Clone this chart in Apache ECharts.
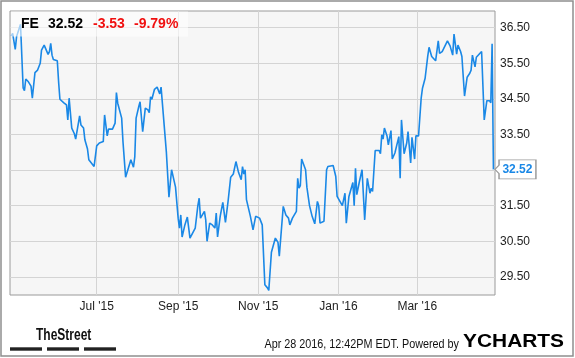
<!DOCTYPE html>
<html><head><meta charset="utf-8">
<script src="https://cdn.jsdelivr.net/npm/echarts@6/dist/echarts.min.js"></script>
<style>html,body{margin:0;padding:0;background:#fff;}#c{width:575px;height:358px;}</style>
</head><body><div id="c"></div>
<script>
// ---- data ----
const ticker = 'FE';
const lastPrice = 32.52;
const priceChange = -3.53;
const changePct = -9.79;
const startDate = [2015, 3, 26];      // day 0 of the axis (Apr 26 2015)
const axisEndDay = 369.2;             // right edge of the plot, in days from startDate
const yTicks = [29.5, 30.5, 31.5, 32.5, 33.5, 34.5, 35.5, 36.5];
const yMin = 28.99, yMax = 36.97;
const xTickDates = [[2015, 6, 1], [2015, 8, 1], [2015, 10, 1], [2016, 0, 1], [2016, 2, 1]];
const monthNames = ['Jan','Feb','Mar','Apr','May','Jun','Jul','Aug','Sep','Oct','Nov','Dec'];
const footerStamp = 'Apr 28 2016, 12:42PM EDT. Powered by';
// [day offset from startDate, closing price]
const points = [
[1,36.27],[2,36.34],[4,35.89],[5,36.25],[8,36.60],[10,34.81],[11,34.73],[12,35.06],[14,34.98],[16,34.86],
[17,34.52],[19,35.24],[21,35.31],[23,35.50],[24,35.87],[26,36.01],[29,35.75],[30,35.83],[31,36.06],[32,35.73],
[33,35.61],[36,35.57],[37,34.98],[38,34.49],[39,34.47],[41,34.39],[43,34.33],[44,33.91],[45,34.52],[46,34.49],
[47,33.68],[49,33.52],[50,33.37],[51,33.42],[53,34.02],[54,33.77],[56,33.68],[57,33.35],[59,33.09],[60,32.79],
[64,32.60],[65,32.55],[66,33.18],[68,33.26],[71,33.30],[72,34.05],[74,33.46],[75,33.65],[78,33.65],[79,33.61],
[80,33.82],[81,34.68],[82,34.38],[85,33.96],[86,33.30],[87,33.30],[88,32.30],[89,32.34],[92,32.79],[93,32.81],
[94,32.58],[95,32.88],[96,33.96],[98,34.28],[99,34.42],[101,33.58],[103,34.24],[105,34.19],[106,34.11],[107,34.56],
[108,34.49],[110,34.77],[112,34.83],[113,34.86],[114,34.64],[115,34.83],[119,33.02],[121,31.74],[123,32.51],
[126,32.02],[128,31.15],[129,30.87],[130,31.24],[131,30.62],[133,30.94],[135,31.18],[137,30.59],[138,30.59],[141,30.87],
[143,31.50],[144,31.71],[145,31.15],[148,31.34],[149,31.10],[150,30.50],[152,31.01],[154,30.96],[156,30.87],[157,31.29],
[158,30.62],[160,31.20],[162,31.59],[164,31.03],[166,31.62],[168,32.30],[170,32.39],[172,32.74],[174,32.43],[176,32.23],
[177,32.60],[178,32.39],[179,32.51],[180,31.67],[183,31.20],[185,30.82],
[187,31.20],[190,31.15],[192,30.96],[194,29.28],[196,29.19],[197,29.12],[199,30.19],[200,30.17],[202,30.59],[204,30.47],
[205,30.08],[208,31.48],[210,31.24],[212,31.15],[213,30.96],[215,31.15],[218,31.34],[219,32.27],[220,31.99],[221,32.06],
[222,32.81],[225,32.51],[226,32.02],[227,32.06],[228,31.50],[230,31.20],[232,30.99],[234,31.62],[235,31.50],[236,31.01],
[239,31.06],[241,32.51],[242,32.60],[246,32.63],[248,32.32],
[249,31.76],[253,31.50],[255,31.85],[256,31.01],[258,31.76],[261,32.15],[262,31.50],[263,32.55],[264,31.81],[266,32.18],
[268,32.51],[270,31.10],[272,32.27],[274,31.85],[275,31.99],[276,31.90],[278,33.05],[281,33.05],[282,32.96],[283,33.49],
[284,33.37],[285,33.68],[287,33.46],[288,33.21],[290,33.61],[291,32.81],[293,32.98],[296,33.44],[297,32.27],[298,33.91],
[300,32.96],[302,33.26],[303,33.58],[305,32.70],[306,33.42],[308,32.81],[309,33.46],[311,33.46],
[313,34.52],[314,34.80],[316,35.08],[318,35.70],[319,35.95],[321,35.69],[324,35.57],[326,36.13],[327,35.78],[329,35.83],
[330,35.80],[333,36.13],[335,35.99],[337,35.73],[338,36.32],[340,35.76],[341,36.01],[343,35.83],[344,35.69],[346,34.58],
[348,35.11],[350,35.22],[351,35.31],[352,35.73],[354,35.40],[355,35.67],[359,35.83],[361,33.91],[363,34.45],[365,34.45],
[366,34.39],[367,36.05],[368,32.52]
];

// ---- chart ----
const DAY = 86400000;
const t0 = Date.UTC(startDate[0], startDate[1], startDate[2]);
const dayOf = d => Math.round((Date.UTC(d[0], d[1], d[2]) - t0) / DAY);
const xTickDays = xTickDates.map(dayOf);
const dayLabel = v => { const d = new Date(t0 + Math.round(v) * DAY); return monthNames[d.getUTCMonth()] + " '" + String(d.getUTCFullYear()).slice(2); };
const last = points[points.length - 1];
const lineColor = '#1a88e6';
const font = '"Liberation Sans", Arial, sans-serif';

const chart = echarts.init(document.getElementById('c'), null, {renderer: 'canvas'});
chart.setOption({
  animation: false,
  backgroundColor: '#fff',
  grid: {left: 10, top: 11, right: 80, bottom: 63, show: true, backgroundColor: '#f6f6f6', borderColor: '#9a9a9a', borderWidth: 1},
  xAxis: {
    type: 'value', min: 0, max: axisEndDay,
    axisLine: {show: false}, axisTick: {show: false, customValues: xTickDays},
    splitLine: {show: true, lineStyle: {color: '#d4d4d4', width: 1}},
    axisLabel: {customValues: xTickDays, margin: 6, color: '#222', fontSize: 12, fontFamily: font, formatter: dayLabel}
  },
  yAxis: {
    type: 'value', position: 'right', min: yMin, max: yMax,
    axisLine: {show: false}, axisTick: {show: false, customValues: yTicks},
    splitLine: {show: true, lineStyle: {color: '#d4d4d4', width: 1}},
    axisLabel: {customValues: yTicks, margin: 5, color: '#222', fontSize: 12, fontFamily: font, formatter: v => v.toFixed(2)}
  },
  series: [{
    type: 'line', data: points, symbol: 'none', showSymbol: false,
    lineStyle: {color: lineColor, width: 1.6}, z: 3,
    markPoint: {
      symbol: 'path://M0,9L4,5L4,0L40,0L40,18L4,18L4,13Z',
      symbolSize: [41, 19], symbolKeepAspect: false, symbolOffset: [22, 0],
      itemStyle: {color: '#fff', borderColor: '#999', borderWidth: 1},
      label: {show: true, position: 'inside', formatter: lastPrice.toFixed(2), color: lineColor, fontWeight: 'bold', fontSize: 12, fontFamily: font, offset: [2, 0]},
      data: [{coord: last}]
    }
  }],
  graphic: [
    {type: 'rect', z: 100, silent: true, shape: {x: 1, y: 1, width: 572, height: 355}, style: {fill: 'none', stroke: '#8f8f8f', lineWidth: 1.5}},
    {type: 'rect', z: 100, shape: {x: 11, y: 11.5, width: 177, height: 25}, style: {fill: 'rgba(255,255,255,0.6)'}},
    {type: 'text', z: 101, x: 21, y: 24, style: {text: ticker, font: 'bold 14px ' + font, fill: '#000', textVerticalAlign: 'middle'}},
    {type: 'text', z: 101, x: 48, y: 24, style: {text: lastPrice.toFixed(2), font: 'bold 14px ' + font, fill: '#000', textVerticalAlign: 'middle'}},
    {type: 'text', z: 101, x: 93, y: 24, style: {text: priceChange.toFixed(2), font: 'bold 14px ' + font, fill: '#f01010', textVerticalAlign: 'middle'}},
    {type: 'text', z: 101, x: 134, y: 24, style: {text: changePct.toFixed(2) + '%', font: 'bold 14px ' + font, fill: '#f01010', textVerticalAlign: 'middle'}},
    {type: 'text', z: 101, x: 36, y: 336, scaleX: 0.75, style: {text: 'TheStreet', font: 'bold 16px ' + font, fill: '#111', textVerticalAlign: 'middle'}},
    {type: 'rect', z: 101, shape: {x: 10, y: 347.3, width: 32, height: 3.4}, style: {fill: '#222'}},
    {type: 'rect', z: 101, shape: {x: 47, y: 347.3, width: 32, height: 3.4}, style: {fill: '#222'}},
    {type: 'rect', z: 101, shape: {x: 84, y: 347.3, width: 32, height: 3.4}, style: {fill: '#222'}},
    {type: 'text', z: 101, x: 459, y: 345, scaleX: 0.9, style: {text: footerStamp, font: '12px ' + font, fill: '#111', textAlign: 'right', textVerticalAlign: 'middle'}},
    {type: 'text', z: 101, x: 463, y: 342, scaleX: 1.1, style: {text: '{a|Y}{b|CHARTS}', textVerticalAlign: 'middle',
      rich: {a: {fontSize: 19, fontWeight: 'bold', fontFamily: font, color: '#1a8fe3'}, b: {fontSize: 19, fontWeight: 'bold', fontFamily: font, color: '#1b2633'}}}}
  ]
});
</script></body></html>
